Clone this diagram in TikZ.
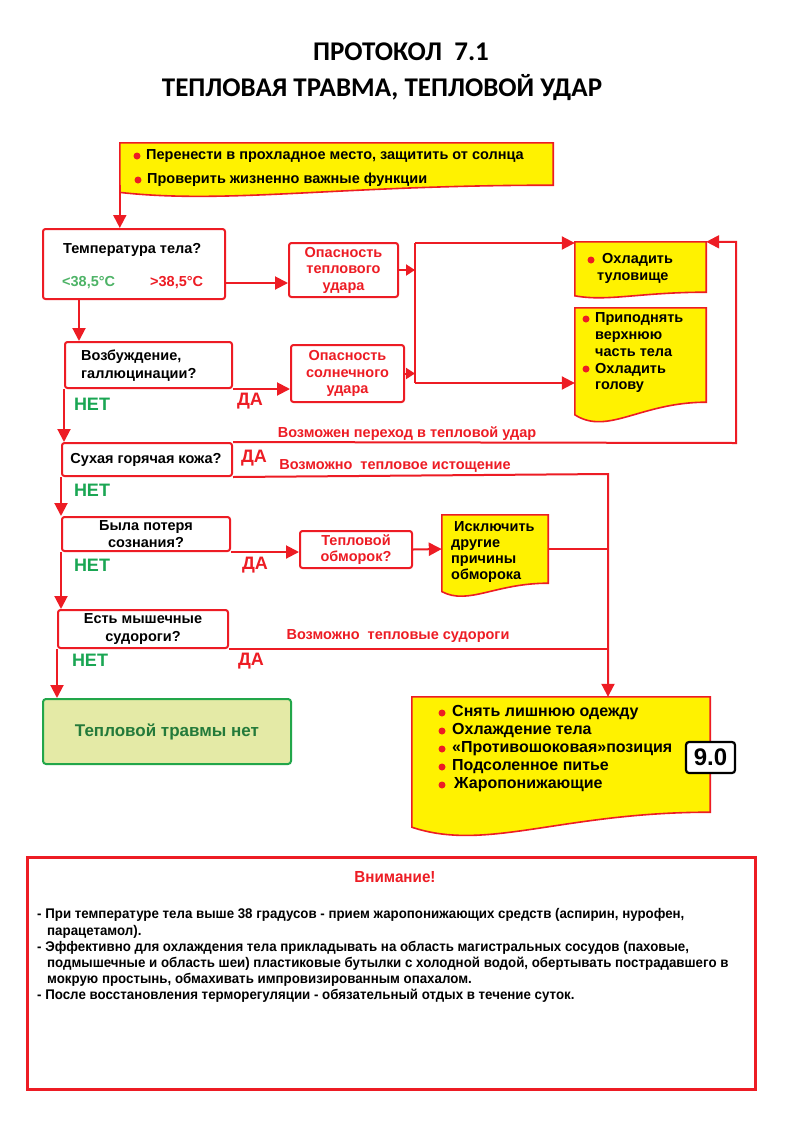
\documentclass[tikz,border=0pt]{standalone}
\usepackage{fontspec}
\setmainfont{Liberation Sans}
\newfontfamily\titlefont{Carlito}
\newfontfamily\narrowfont[FakeStretch=0.95]{Liberation Sans}
\usetikzlibrary{arrows.meta,calc}
\definecolor{myred}{HTML}{ED1C24}
\definecolor{myyellow}{HTML}{FFF200}
\definecolor{netgreen}{HTML}{1AA653}
\definecolor{tgreen}{HTML}{4DB366}
\definecolor{gbfill}{HTML}{E4EAA6}
\definecolor{gbdraw}{HTML}{22A64A}
\definecolor{gbtext}{HTML}{247A3A}
\newcommand\docpath[2]{%
  \draw[docbox] (#1.north west) -- (#1.north east) -- (#1.south east)
    .. controls ($(#1.south east)!0.5!(#1.south west)$) and ($(#1.south east)!0.75!(#1.south west)+(0,#2*1.6)$) .. ($(#1.south west)+(0,#2*0.6)$) -- cycle;}
\begin{document}
\begin{tikzpicture}[x=1pt,y=-1pt,
  qbox/.style={draw=myred, line width=2pt, rounded corners=2.5pt, fill=white, inner sep=0pt},
  docnode/.style={draw=none, inner sep=0pt},
  docbox/.style={draw=myred, line width=1.6pt, fill=myyellow},
  txt/.style={font=\bfseries\fontsize{14.5}{16.5}\selectfont, inner sep=0pt},
  rtxt/.style={txt, text=myred},
  btxt/.style={font=\bfseries\fontsize{16}{18}\selectfont, inner sep=0pt},
  lbl/.style={font=\bfseries\fontsize{14.5}{16}\selectfont, text=myred, inner sep=0pt},
  da/.style={font=\bfseries\fontsize{18}{18}\selectfont, text=myred, inner sep=0pt},
  net/.style={font=\bfseries\fontsize{18}{18}\selectfont, text=netgreen, inner sep=0pt},
  arr/.style={draw=myred, line width=2pt, -{Triangle[length=13pt,width=13pt]}},
  ln/.style={draw=myred, line width=2pt},
  sarr/.style={draw=myred, line width=2pt, -{Triangle[length=9pt,width=11pt]}},
  note/.style={font=\narrowfont\bfseries\fontsize{14}{16}\selectfont, inner sep=0pt, anchor=west},
  bul/.style={fill=myred}
]
\useasboundingbox (0,0) rectangle (795,1125);
\fill[white] (0,0) rectangle (795,1125);

% Title
\node[font=\titlefont\bfseries\fontsize{27}{27}\selectfont, inner sep=0pt] (t1) at (401,52) {ПРОТОКОЛ~~7.1};
\node[font=\titlefont\bfseries\fontsize{27}{27}\selectfont, inner sep=0pt] (t2) at (382,88) {ТЕПЛОВАЯ ТРАВМА, ТЕПЛОВОЙ УДАР};

% Top document box
\node[docnode, minimum width=433pt, minimum height=42pt] (top) at (336.5,164) {};
\docpath{top}{12}
\fill[bul] (137,156) circle (3.5pt);
\fill[bul] (138,180) circle (3.5pt);
\node[txt, anchor=west] (top1) at (146,156) {Перенести в прохладное место, защитить от солнца};
\node[txt, anchor=west] (top2) at (147,180) {Проверить жизненно важные функции};

% Temperature box
\node[qbox, minimum width=182pt, minimum height=70pt] (temp) at (134,264) {};
\node[txt, anchor=west] (tq) at (63,250) {Температура тела?};
\node[txt, anchor=west, text=tgreen] (lo) at (62,283) {<38,5°C};
\node[txt, anchor=west, text=myred] (hi) at (150,283) {>38,5°C};
\draw[arr] (top.south west) -- (top.south west |- temp.north);

% Danger of heat stroke
\node[qbox, minimum width=109pt, minimum height=54pt, rtxt, align=center] (ot) at (343.5,270) {Опасность\\теплового\\удара};
\draw[arr] (temp.east |- hi) -- (ot.west |- hi);

% Agitation box
\node[qbox, minimum width=167pt, minimum height=46pt] (vozb) at (148.5,365) {};
\node[txt, anchor=west, align=left, font=\bfseries\fontsize{14.5}{18}\selectfont] (vq) at (81,366) {Возбуждение,\\галлюцинации?};
\coordinate (tva) at (79,299);
\draw[arr] (tva) -- (tva |- vozb.north);

% Danger of sunstroke
\node[qbox, minimum width=113pt, minimum height=57pt, rtxt, align=center] (os) at (347.5,373.5) {Опасность\\солнечного\\удара};
\draw[arr] (vozb.south east) -- (vozb.south east -| os.west);
\node[da] (da1) at (250,401) {ДА};
\node[net] (net1) at (92,404) {НЕТ};

% Junction
\coordinate (j1) at (415,243);
\coordinate (j2) at (415,383);
\draw[ln] (j1) -- (j2);
\draw[sarr] (ot.east) -- (ot.east -| j1);
\draw[sarr] (os.east) -- (os.east -| j1);

% Cool trunk
\node[docnode, minimum width=131pt, minimum height=50pt] (cool1) at (640.5,267) {};
\docpath{cool1}{6}
\fill[bul] (591,260) circle (3.5pt);
\node[txt, anchor=west, align=left, font=\bfseries\fontsize{14.5}{17}\selectfont] (c1t) at (597,268.5) {\hspace*{5pt}Охладить\\туловище};

% Raise upper body
\node[docnode, minimum width=131pt, minimum height=94pt] (cool2) at (640.5,355) {};
\docpath{cool2}{21}
\fill[bul] (586,319) circle (3.5pt);
\fill[bul] (586,369) circle (3.5pt);
\node[txt, anchor=west, align=left, font=\bfseries\fontsize{14.5}{16.75}\selectfont] (c2t) at (595,353) {Приподнять\\верхнюю\\часть тела\\Охладить\\голову};

\draw[arr] (j1) -- (j1 -| cool1.west);
\draw[arr] (j2) -- (j2 -| cool2.west);

% Dry hot skin
\node[qbox, minimum width=170pt, minimum height=33pt] (sux) at (147,459.5) {};
\node[txt] (sq) at (146,460) {Сухая горячая кожа?};
\draw[arr] (vozb.south west) -- (vozb.south west |- sux.north);
\coordinate (lp) at (736,443);
\draw[arr] (sux.north east) -- (lp) |- (cool1.north east);
\node[lbl] (l1) at (407,434) {Возможен переход в тепловой удар};
\node[da] (da2) at (254,458) {ДА};
\node[lbl] (l2) at (395,466) {Возможно\ \ тепловое истощение};
\node[net] (net2) at (92,490) {НЕТ};

% Loss of consciousness
\node[qbox, minimum width=168pt, minimum height=34pt, txt, align=center, font=\bfseries\fontsize{14.5}{17}\selectfont] (byla) at (146,534) {Была потеря\\сознания?};
\draw[arr] (sux.south west) -- (sux.south west |- byla.north);
\node[qbox, minimum width=112pt, minimum height=37pt, rtxt, align=center, font=\bfseries\fontsize{14.5}{16}\selectfont] (tb) at (356,549.5) {Тепловой\\обморок?};
\draw[arr] (byla.south east) -- (byla.south east -| tb.west);
\node[da] (da3) at (255,565) {ДА};
\node[net] (net3) at (92,565) {НЕТ};

% Exclude other causes
\node[docnode, minimum width=106pt, minimum height=68pt] (isk) at (495,549) {};
\docpath{isk}{14}
\node[txt, anchor=west, align=left, font=\bfseries\fontsize{14.5}{16}\selectfont] (ikt) at (451,552) {\hspace*{3pt}Исключить\\другие\\причины\\обморока};
\draw[arr] (tb.east) -- (isk.west);

% Muscle cramps
\node[qbox, minimum width=170pt, minimum height=38pt, txt, align=center, font=\bfseries\fontsize{14.5}{18}\selectfont] (est) at (143,629) {Есть мышечные\\судороги?};
\draw[arr] (byla.south west) -- (byla.south west |- est.north);
\node[lbl] (l3) at (398,636) {Возможно\ \ тепловые судороги};
\node[da] (da4) at (251,661) {ДА};
\node[net] (net4) at (90,660) {НЕТ};

% No heat injury
\node[draw=gbdraw, fill=gbfill, line width=2pt, rounded corners=3pt, minimum width=248pt, minimum height=65pt, inner sep=0pt, text=gbtext, font=\bfseries\fontsize{17}{17}\selectfont] (green) at (167,731.5) {Тепловой травмы нет};
\draw[arr] (est.south west) -- (est.south west |- green.north);

% Big yellow box
\node[docnode, minimum width=298pt, minimum height=115pt] (big) at (561,754.5) {};
\docpath{big}{25}
\foreach \yy in {713,731,749,767,785} \fill[bul] (442,\yy) circle (3.5pt);
\node[btxt, anchor=west, align=left] (bigt) at (452,749) {Снять лишнюю одежду\\Охлаждение тела\\«Противошоковая»позиция\\Подсоленное питье\\\hspace*{2pt}Жаропонижающие};
\node[draw=black, line width=2.2pt, rounded corners=3pt, fill=white, minimum width=49pt, minimum height=31pt, inner sep=0pt, font=\bfseries\fontsize{24}{24}\selectfont] (ref) at (710.5,757.5) {9.0};

% Right vertical line
\coordinate (rv) at (608,474);
\draw[arr] (sux.south east) -- (rv) -- (rv |- big.north);
\draw[ln] (isk.east) -- (isk.east -| rv);
\draw[ln] (est.south east) -- (est.south east -| rv);

% Attention box
\node[draw=myred, line width=3pt, minimum width=728pt, minimum height=232pt, inner sep=0pt] (att) at (391,973) {};
\node[font=\narrowfont\bfseries\fontsize{16}{16}\selectfont, text=myred, inner sep=0pt] (atth) at (395,877) {Внимание!};
\node[note] (n1) at (37,915) {- При температуре тела выше 38 градусов - прием жаропонижающих средств (аспирин, нурофен,};
\node[note] (n2) at (47,932) {парацетамол).};
\node[note] (n3) at (37,948) {- Эффективно для охлаждения тела прикладывать на область магистральных сосудов (паховые,};
\node[note] (n4) at (47,964) {подмышечные и область шеи) пластиковые бутылки с холодной водой, обертывать пострадавшего в};
\node[note] (n5) at (47,980) {мокрую простынь, обмахивать импровизированным опахалом.};
\node[note] (n6) at (37,996) {- После восстановления терморегуляции - обязательный отдых в течение суток.};
\end{tikzpicture}
\end{document}
